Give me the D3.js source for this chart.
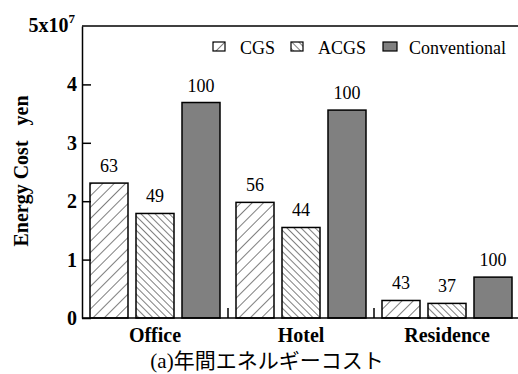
<!DOCTYPE html>
<html>
<head>
<meta charset="utf-8">
<script src="https://cdn.jsdelivr.net/npm/d3@7"></script>
<style>
  body { margin: 0; background: #fff; }
  svg { display: block; }
  svg text { font-family: "Liberation Serif", "Times New Roman", Times, serif !important; fill: #000; }
  svg text tspan.jp { font-family: "Noto Sans CJK JP", sans-serif !important; }
</style>
</head>
<body>
<div id="chart-container"></div>
<script>
// Data
var categories = ["Office", "Hotel", "Residence"];
var series = ["CGS", "ACGS", "Conventional"];
var cgsCost = [2.31e7, 1.98e7, 0.30e7];
var acgsCost = [1.79e7, 1.55e7, 0.25e7];
var convCost = [3.69e7, 3.56e7, 0.70e7];
var cgsIndex = [63, 56, 43];
var acgsIndex = [49, 44, 37];
var convIndex = [100, 100, 100];
var yTicks = [0, 1e7, 2e7, 3e7, 4e7];

var costs = [cgsCost, acgsCost, convCost];
var indexes = [cgsIndex, acgsIndex, convIndex];

var data = categories.map(function(c, i) {
  return {
    category: c,
    values: series.map(function(s, j) {
      return { series: s, cost: costs[j][i], index: indexes[j][i] };
    })
  };
});

var serif = "'Liberation Serif', 'Times New Roman', Times, serif";
var W = 518, H = 374;
var margin = { top: 26, right: 0, bottom: 56, left: 82 };
var plotBottom = H - margin.bottom;

var svg = d3.select("#chart-container")
  .append("svg")
  .attr("width", W)
  .attr("height", H);

// Hatch patterns
var defs = svg.append("defs");
defs.append("pattern")
  .attr("id", "hatch-cgs")
  .attr("patternUnits", "userSpaceOnUse")
  .attr("width", 8).attr("height", 8)
  .attr("patternTransform", "rotate(45)")
  .append("line")
  .attr("x1", 0).attr("y1", 0).attr("x2", 0).attr("y2", 8)
  .attr("stroke", "#000").attr("stroke-width", 1);
defs.append("pattern")
  .attr("id", "hatch-acgs")
  .attr("patternUnits", "userSpaceOnUse")
  .attr("width", 5).attr("height", 5)
  .attr("patternTransform", "rotate(-45)")
  .append("line")
  .attr("x1", 0).attr("y1", 0).attr("x2", 0).attr("y2", 5)
  .attr("stroke", "#000").attr("stroke-width", 1);

var fills = {
  "CGS": "url(#hatch-cgs)",
  "ACGS": "url(#hatch-acgs)",
  "Conventional": "#808080"
};

// Scales
var x0 = d3.scaleBand()
  .domain(categories)
  .range([margin.left, margin.left + 146 * 3]);

var x1 = d3.scaleBand()
  .domain(series)
  .range([8, x0.bandwidth() - 8])
  .paddingInner(8 / 46);

var y = d3.scaleLinear()
  .domain([0, 5e7])
  .range([plotBottom, margin.top]);

// Bars
var groups = svg.append("g")
  .selectAll("g")
  .data(data)
  .join("g")
  .attr("transform", function(d) { return "translate(" + x0(d.category) + ",0)"; });

groups.selectAll("rect")
  .data(function(d) { return d.values; })
  .join("rect")
  .attr("x", function(d) { return x1(d.series); })
  .attr("y", function(d) { return y(d.cost); })
  .attr("width", x1.bandwidth())
  .attr("height", function(d) { return y(0) - y(d.cost); })
  .attr("fill", function(d) { return fills[d.series]; })
  .attr("stroke", "#000")
  .attr("stroke-width", 1.5);

// Value labels
groups.selectAll("text.val")
  .data(function(d) { return d.values; })
  .join("text")
  .attr("class", "val")
  .attr("x", function(d) { return x1(d.series) + x1.bandwidth() / 2; })
  .attr("y", function(d) { return y(d.cost) - 11; })
  .attr("text-anchor", "middle")
  .style("font-family", serif)
  .style("font-size", "18px")
  .text(function(d) { return d.index; });

// Frame lines
svg.append("line")
  .attr("x1", margin.left).attr("x2", W)
  .attr("y1", y(5e7)).attr("y2", y(5e7))
  .attr("stroke", "#000").attr("stroke-width", 1.5);
svg.append("line")
  .attr("x1", margin.left).attr("x2", W)
  .attr("y1", y(0)).attr("y2", y(0))
  .attr("stroke", "#000").attr("stroke-width", 1.5);

// Y axis (inward ticks)
var yAxis = svg.append("g")
  .attr("transform", "translate(" + margin.left + ",0)")
  .call(d3.axisLeft(y)
    .tickValues(yTicks)
    .tickSizeInner(-9)
    .tickSizeOuter(0)
    .tickPadding(5)
    .tickFormat(function(d) { return d / 1e7; }));
yAxis.attr("font-family", serif);
yAxis.select(".domain").attr("stroke-width", 1.5);
yAxis.selectAll(".tick line").attr("stroke-width", 1.5);
yAxis.selectAll(".tick text")
  .style("font-family", serif)
  .style("font-size", "20px")
  .style("font-weight", "bold");

// Top tick label 5x10^7
var topLabel = svg.append("text")
  .attr("x", margin.left - 7)
  .attr("y", y(5e7) + 6)
  .attr("text-anchor", "end")
  .style("font-family", serif)
  .style("font-size", "20px")
  .style("font-weight", "bold");
topLabel.append("tspan").text("5x10");
topLabel.append("tspan")
  .attr("dy", -9)
  .style("font-size", "13px")
  .text("7");

// Small x ticks between groups
svg.append("g")
  .selectAll("line")
  .data(categories.slice(1))
  .join("line")
  .attr("x1", function(d) { return x0(d); })
  .attr("x2", function(d) { return x0(d); })
  .attr("y1", y(0))
  .attr("y2", y(0) - 10)
  .attr("stroke", "#000")
  .attr("stroke-width", 1.5);

// Category labels
svg.append("g")
  .selectAll("text")
  .data(categories)
  .join("text")
  .attr("x", function(d) { return x0(d) + x0.bandwidth() / 2; })
  .attr("y", plotBottom + 24)
  .attr("text-anchor", "middle")
  .style("font-family", serif)
  .style("font-size", "20px")
  .style("font-weight", "bold")
  .text(function(d) { return d; });

// Y axis title
svg.append("text")
  .attr("transform", "translate(28,171) rotate(-90)")
  .attr("text-anchor", "middle")
  .style("font-family", serif)
  .style("font-size", "20px")
  .style("font-weight", "bold")
  .style("white-space", "pre")
  .text("Energy Cost   yen");

// Legend
var legendX = [213, 291, 383];
var legend = svg.append("g")
  .selectAll("g")
  .data(series)
  .join("g")
  .attr("transform", function(d, i) { return "translate(" + legendX[i] + ",42)"; });
legend.append("rect")
  .attr("width", function(d, i) { return i === 2 ? 14 : 12; })
  .attr("height", 9)
  .attr("fill", function(d) { return fills[d]; })
  .attr("stroke", "#000")
  .attr("stroke-width", 1.2);
legend.append("text")
  .attr("x", function(d, i) { return i === 2 ? 26 : 27; })
  .attr("y", 12)
  .style("font-family", serif)
  .style("font-size", "18px")
  .text(function(d) { return d; });

// Caption
var caption = svg.append("text")
  .attr("x", 267)
  .attr("y", 368)
  .attr("text-anchor", "middle")
  .style("font-family", serif)
  .style("font-size", "21px");
caption.append("tspan").text("(a)");
caption.append("tspan")
  .attr("class", "jp")
  .style("font-family", "'Noto Sans CJK JP', sans-serif")
  .text("年間エネルギーコスト");
</script>
</body>
</html>
